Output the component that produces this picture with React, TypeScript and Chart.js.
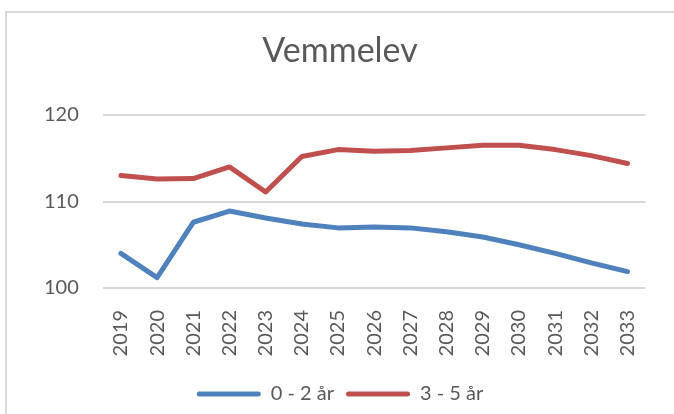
import React, { useEffect, useRef } from "react";
import { Chart, registerables } from "chart.js";

Chart.register(...registerables);

const years = ["2019", "2020", "2021", "2022", "2023", "2024", "2025", "2026", "2027", "2028", "2029", "2030", "2031", "2032", "2033"];
const age02 = [104.0, 101.2, 107.6, 108.9, 108.1, 107.4, 106.95, 107.05, 106.95, 106.5, 105.9, 105.0, 104.0, 102.9, 101.9];
const age35 = [113.0, 112.6, 112.65, 114.0, 111.1, 115.2, 116.0, 115.8, 115.9, 116.2, 116.5, 116.5, 116.0, 115.3, 114.4];
const seriesNames = ["0 - 2 år", "3 - 5 år"];
const yTicks = [100, 110, 120];

const BLUE = "#4F81BD";
const RED = "#C0504D";
const TEXT = "#595959";
const GRID = "#D9D9D9";
const FONT = "Lato";

export default function App() {
  const ref = useRef<HTMLCanvasElement | null>(null);

  useEffect(() => {
    if (!ref.current) return;
    const chart = new Chart(ref.current, {
      type: "line",
      data: {
        labels: years,
        datasets: [
          {
            label: seriesNames[0],
            data: age02,
            borderColor: BLUE,
            backgroundColor: BLUE,
            borderWidth: 5,
            pointRadius: 0,
            borderCapStyle: "round",
            borderJoinStyle: "round",
            tension: 0,
          },
          {
            label: seriesNames[1],
            data: age35,
            borderColor: RED,
            backgroundColor: RED,
            borderWidth: 5,
            pointRadius: 0,
            borderCapStyle: "round",
            borderJoinStyle: "round",
            tension: 0,
          },
        ],
      },
      options: {
        responsive: false,
        animation: false,
        layout: { padding: { top: 0, left: 20, right: 14, bottom: 0 } },
        plugins: {
          title: {
            display: true,
            text: "Vemmelev",
            color: TEXT,
            font: { family: FONT, size: 34, weight: "normal" },
            padding: { top: 30.6, bottom: 43.6 },
          },
          legend: {
            position: "bottom",
            labels: {
              color: TEXT,
              font: { family: FONT, size: 20 },
              boxWidth: 64,
              boxHeight: 5,
              padding: 12,
              useBorderRadius: true,
              borderRadius: 2.5,
              generateLabels: (c: any) => {
                const items = Chart.defaults.plugins.legend.labels.generateLabels(c);
                return items.map((it: any) => ({ ...it, lineWidth: 0, fillStyle: it.strokeStyle }));
              },
            },
          },
          tooltip: { enabled: false },
        },
        scales: {
          x: {
            offset: true,
            grid: { display: false, drawTicks: false },
            border: { display: false },
            ticks: {
              autoSkip: false,
              maxRotation: 90,
              minRotation: 90,
              padding: 22,
              color: TEXT,
              font: { family: FONT, size: 20 },
            },
            afterFit: (scale: any) => {
              scale.height = 84;
            },
          },
          y: {
            min: yTicks[0],
            max: yTicks[yTicks.length - 1],
            grid: { color: GRID, lineWidth: 2, drawTicks: false },
            border: { display: false },
            ticks: {
              stepSize: 10,
              padding: 24,
              color: TEXT,
              font: { family: FONT, size: 20 },
            },
          },
        },
      },
    });
    return () => chart.destroy();
  }, []);

  return (
    <div style={{ position: "fixed", left: 0, top: 0, width: 674, height: 414, background: "#fff", overflow: "hidden" }}>
      <div
        style={{
          position: "absolute",
          left: 5,
          top: 11,
          width: 700,
          height: 450,
          borderTop: `2px solid ${GRID}`,
          borderLeft: `2px solid ${GRID}`,
        }}
      />
      <canvas ref={ref} width={674} height={414} style={{ position: "absolute", left: 0, top: 0 }} />
    </div>
  );
}
